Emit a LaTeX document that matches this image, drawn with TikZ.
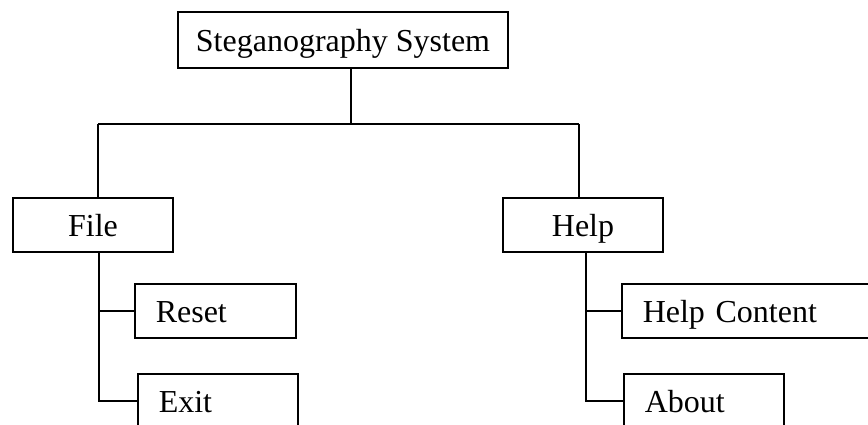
\documentclass[tikz,border=0pt]{standalone}
\usepackage{fontspec}
\setmainfont{Liberation Serif}
\begin{document}
\begin{tikzpicture}[x=1pt,y=1pt,line width=1.5pt,
  box/.style={draw,rectangle,minimum height=54pt,inner sep=0pt,text height=24pt,text depth=0pt,font=\fontsize{32}{36}\selectfont},
  sub/.style={box,anchor=west,align=left,inner xsep=21pt}]
\useasboundingbox (0,0) rectangle (868,425);
\clip (0,0) rectangle (868,425);
\node[box,minimum width=330pt,minimum height=56pt] (top) at (343,385) {Steganography System};
\node[box,minimum width=160pt] (file) at (93,200) {File};
\node[box,minimum width=160pt] (help) at (583,200) {Help};
\node[sub,text width=119pt] (reset) at (134,114) {Reset};
\node[sub,text width=118pt] (exit) at (137,24) {Exit};
\node[sub,text width=218pt] (helpc) at (621,114) {Help Content};
\node[sub,text width=118pt] (about) at (623,24) {About};
\coordinate (j) at (351,301);
\coordinate (jL) at (98,301);
\coordinate (jR) at (579,301);
\coordinate (fs) at (99,0);
\coordinate (hs) at (586,0);
\draw (top.south -| j) -- (j);
\draw (jL) -- (jR);
\draw (jL) -- (jL |- file.north);
\draw (jR) -- (jR |- help.north);
\draw (fs |- file.south) -- (fs |- exit.west) -- (exit.west);
\draw (fs |- reset.west) -- (reset.west);
\draw (hs |- help.south) -- (hs |- about.west) -- (about.west);
\draw (hs |- helpc.west) -- (helpc.west);
\end{tikzpicture}
\end{document}
